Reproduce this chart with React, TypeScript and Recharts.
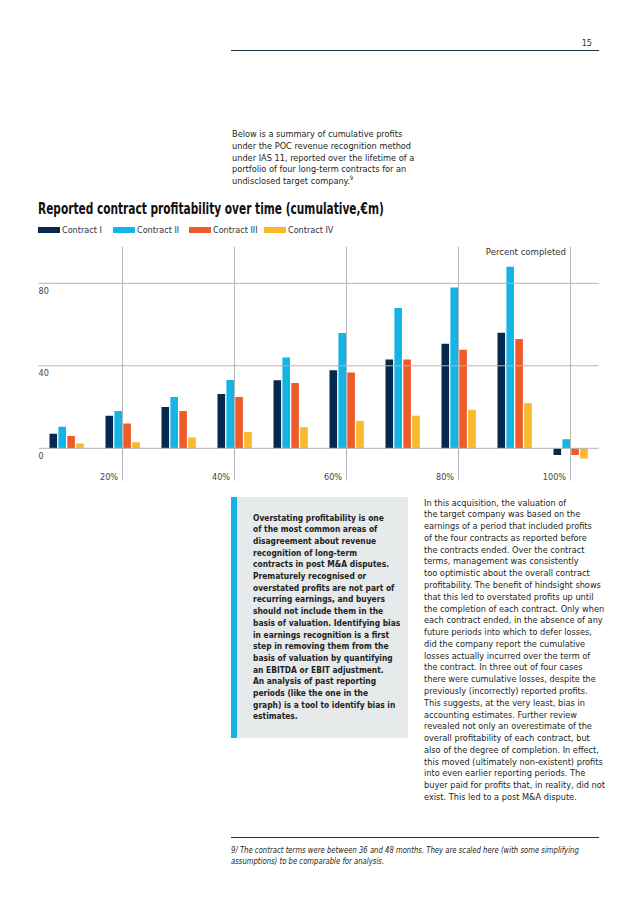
import React from "react";
import { BarChart, Bar, XAxis, YAxis, ReferenceLine } from "recharts";

// cumulative profit (€m) by percent completed
const categories = ["10%", "20%", "30%", "40%", "50%", "60%", "70%", "80%", "90%", "100%"];
const contractI = [7, 15.8, 20, 26.3, 33, 37.8, 43, 50.7, 56, -3.3];
const contractII = [10.4, 18.1, 24.9, 33.1, 44, 55.9, 68, 78, 88, 4.4];
const contractIII = [6, 12, 18.1, 24.9, 31.7, 36.8, 43, 47.8, 53, -3.3];
const contractIV = [2.3, 2.9, 5.2, 7.9, 10.3, 13.2, 15.8, 18.7, 22, -5];

const seriesNames = ["Contract I", "Contract II", "Contract III", "Contract IV"];
const seriesKeys = ["c1", "c2", "c3", "c4"];
const seriesColors = ["#05294f", "#14b5e6", "#ee5a29", "#fbb829"];

const yTicks = [0, 40, 80];
const labelledCategories = ["20%", "40%", "60%", "80%", "100%"];

const introLines = [
  "Below is a summary of cumulative profits",
  "under the POC revenue recognition method",
  "under IAS 11, reported over the lifetime of a",
  "portfolio of four long-term contracts for an",
  "undisclosed target company.",
];

const boxLines = [
  "Overstating profitability is one",
  "of the most common areas of",
  "disagreement about revenue",
  "recognition of long-term",
  "contracts in post M&A disputes.",
  "Prematurely recognised or",
  "overstated profits are not part of",
  "recurring earnings, and buyers",
  "should not include them in the",
  "basis of valuation. Identifying bias",
  "in earnings recognition is a first",
  "step in removing them from the",
  "basis of valuation by quantifying",
  "an EBITDA or EBIT adjustment.",
  "An analysis of past reporting",
  "periods (like the one in the",
  "graph) is a tool to identify bias in",
  "estimates.",
];

const bodyLines = [
  "In this acquisition, the valuation of",
  "the target company was based on the",
  "earnings of a period that included profits",
  "of the four contracts as reported before",
  "the contracts ended. Over the contract",
  "terms, management was consistently",
  "too optimistic about the overall contract",
  "profitability. The benefit of hindsight shows",
  "that this led to overstated profits up until",
  "the completion of each contract. Only when",
  "each contract ended, in the absence of any",
  "future periods into which to defer losses,",
  "did the company report the cumulative",
  "losses actually incurred over the term of",
  "the contract. In three out of four cases",
  "there were cumulative losses, despite the",
  "previously (incorrectly) reported profits.",
  "This suggests, at the very least, bias in",
  "accounting estimates. Further review",
  "revealed not only an overestimate of the",
  "overall profitability of each contract, but",
  "also of the degree of completion. In effect,",
  "this moved (ultimately non-existent) profits",
  "into even earlier reporting periods. The",
  "buyer paid for profits that, in reality, did not",
  "exist. This led to a post M&A dispute.",
];

const footLines = [
  "9/ The contract terms were between 36 and 48 months. They are scaled here (with some simplifying",
  "assumptions) to be comparable for analysis.",
];

const FONT = '"DejaVu Sans Condensed", "DejaVu Sans", sans-serif';
const GRID = "#b5b5b5";

const data = categories.map((c, i) => ({
  pct: c,
  c1: contractI[i],
  c2: contractII[i],
  c3: contractIII[i],
  c4: contractIV[i],
}));

function YTick(props: any) {
  const { x, y, payload } = props;
  return (
    <text x={x} y={y + 8} dominantBaseline="middle" textAnchor="start" fontSize={9} fill="#444" fontFamily={FONT}>
      {payload.value}
    </text>
  );
}

function XTick(props: any) {
  const { x, y, payload } = props;
  if (!labelledCategories.includes(payload.value)) return null;
  return (
    <text x={x - 4.5} y={y - 3} dominantBaseline="middle" textAnchor="end" fontSize={9} fill="#444" fontFamily={FONT}>
      {payload.value}
    </text>
  );
}

function Lines({ lines, top, left, lh, sx = 1, sup = false, style }: any) {
  return (
    <div
      style={{
        position: "absolute",
        top,
        left,
        lineHeight: `${lh}px`,
        whiteSpace: "nowrap",
        transform: `scaleX(${sx})`,
        transformOrigin: "0 0",
        ...style,
      }}
    >
      {lines.map((l: string, i: number) => (
        <div key={i}>
          {l}
          {sup && i === lines.length - 1 ? (
            <span style={{ fontSize: 6, position: "relative", top: -4 }}>9</span>
          ) : null}
        </div>
      ))}
    </div>
  );
}

export default function App() {
  return (
    <div
      style={{
        position: "absolute",
        left: 0,
        top: 0,
        width: 638,
        height: 903,
        background: "#fff",
        fontFamily: FONT,
        color: "#231f20",
        overflow: "hidden",
      }}
    >
      {/* page header */}
      <div style={{ position: "absolute", right: 46, top: 38, fontSize: 9, color: "#333" }}>15</div>
      <div style={{ position: "absolute", left: 231, top: 50, width: 368, height: 1.2, background: "#1d3340" }} />

      <Lines lines={introLines} top={128} left={231.5} lh={11.8} sx={0.96} sup style={{ fontSize: 9.5 }} />

      {/* title + legend */}
      <div
        style={{
          position: "absolute",
          left: 38,
          top: 202,
          fontSize: 15,
          fontWeight: 700,
          lineHeight: "15px",
          color: "#111",
          whiteSpace: "nowrap",
          transform: "scaleX(0.785)",
          transformOrigin: "0 0",
        }}
      >
        Reported contract profitability over time (cumulative,€m)
      </div>
      {seriesNames.map((n, i) => (
        <div
          key={n}
          style={{
            position: "absolute",
            left: [38, 113, 189, 264][i],
            top: 224,
            display: "flex",
            alignItems: "center",
            fontSize: 9,
            lineHeight: "12px",
            color: "#333",
            whiteSpace: "nowrap",
          }}
        >
          <div style={{ width: 22, height: 6, background: seriesColors[i], marginRight: 2 }} />
          <span>{n}</span>
        </div>
      ))}

      <div style={{ position: "absolute", right: 72, top: 246, fontSize: 9.5, color: "#333", whiteSpace: "nowrap" }}>
        Percent completed
      </div>

      {/* chart */}
      <div style={{ position: "absolute", left: 0, top: 240, width: 638, height: 250 }}>
        <BarChart
          width={638}
          height={250}
          data={data}
          margin={{ top: 7, right: 39.5, bottom: 8.4, left: 37.5 }}
          barGap={1.3}
          barSize={7.6}
        >
          <XAxis
            dataKey="pct"
            height={1}
            axisLine={false}
            tickLine={false}
            tickSize={0}
            tickMargin={0}
            interval={0}
            tick={<XTick />}
          />
          <YAxis
            width={1}
            domain={[-15.66, 97.6]}
            allowDataOverflow
            ticks={yTicks}
            axisLine={false}
            tickLine={false}
            tickSize={0}
            tickMargin={0}
            tick={<YTick />}
          />
          {yTicks.map((t) => (
            <ReferenceLine key={`y${t}`} y={t} stroke={GRID} />
          ))}
          {labelledCategories.map((c) => (
            <ReferenceLine key={c} x={c} stroke={GRID} />
          ))}
          {seriesKeys.map((k, i) => (
            <Bar key={k} dataKey={k} name={seriesNames[i]} fill={seriesColors[i]} isAnimationActive={false} />
          ))}
        </BarChart>
      </div>

      {/* call-out box */}
      <div style={{ position: "absolute", left: 231, top: 497, width: 177, height: 241, background: "#e7eaeb" }} />
      <div style={{ position: "absolute", left: 231, top: 497, width: 6, height: 241, background: "#14b5e6" }} />
      <Lines lines={boxLines} top={511.5} left={252.5} lh={11.7} sx={0.88} style={{ fontSize: 9.5, fontWeight: 700, color: "#222" }} />

      <Lines lines={bodyLines} top={496.5} left={423.5} lh={11.78} sx={0.96} style={{ fontSize: 9.5 }} />

      {/* footnote */}
      <div style={{ position: "absolute", left: 231, top: 837, width: 368, height: 1.2, background: "#1d3340" }} />
      <Lines lines={footLines} top={845.2} left={231} lh={11} sx={0.9} style={{ fontSize: 8.5, fontStyle: "italic" }} />
    </div>
  );
}
